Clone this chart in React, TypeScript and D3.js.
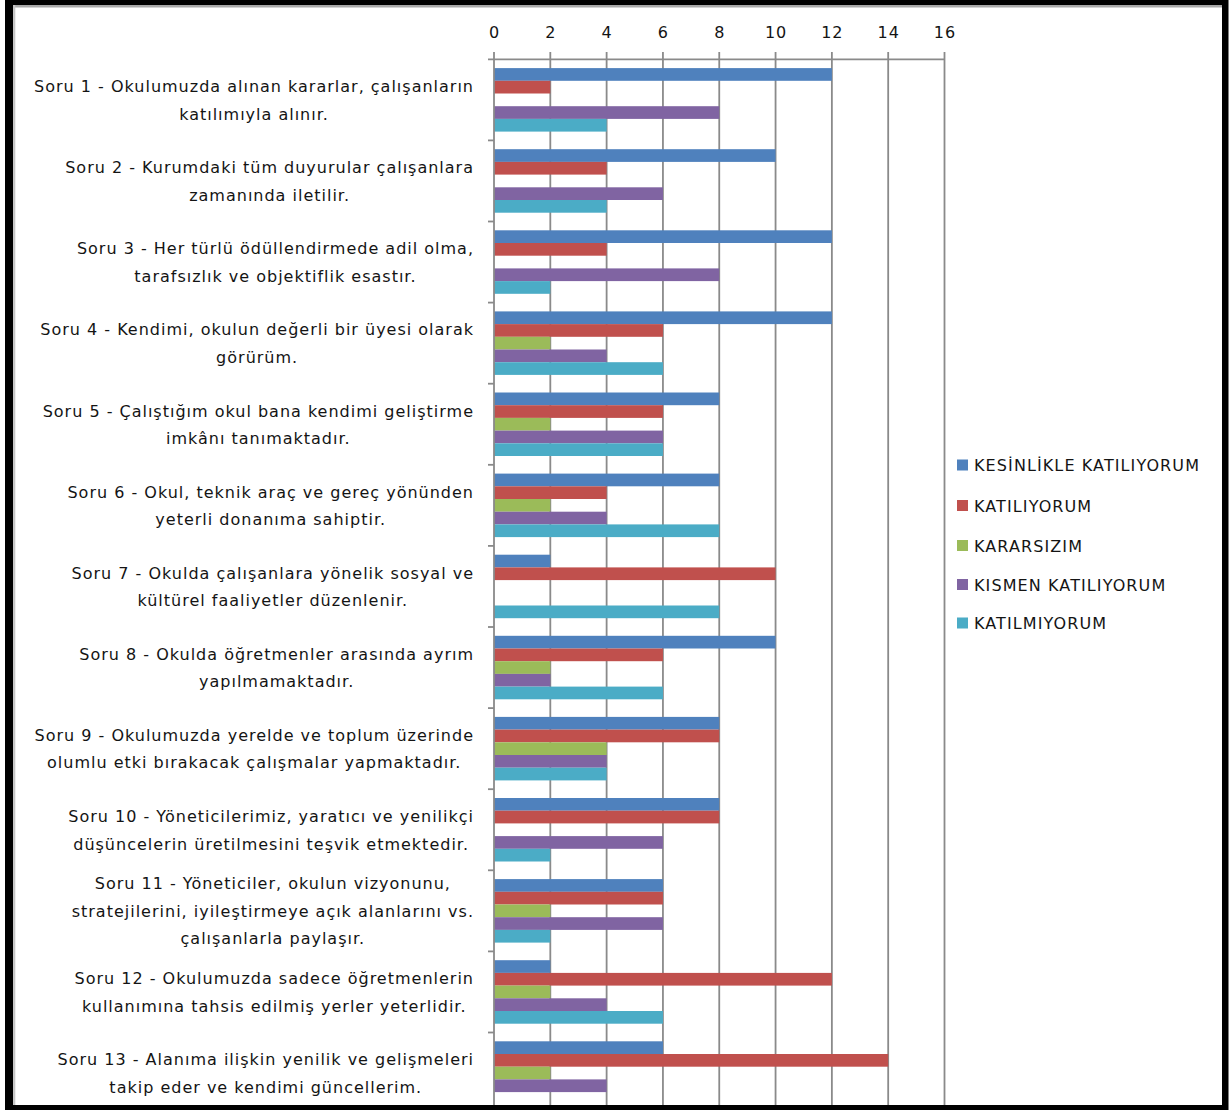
import React, { useEffect, useRef } from "react";
import * as d3 from "d3";

const categories: string[][] = [
  ["Soru 1 - Okulumuzda alınan kararlar, çalışanların", "katılımıyla alınır."],
  ["Soru 2 - Kurumdaki tüm duyurular çalışanlara", "zamanında iletilir."],
  ["Soru 3 - Her türlü ödüllendirmede adil olma,", "tarafsızlık ve objektiflik esastır."],
  ["Soru 4 - Kendimi, okulun değerli bir üyesi olarak", "görürüm."],
  ["Soru 5 - Çalıştığım okul bana kendimi geliştirme", "imkânı tanımaktadır."],
  ["Soru 6 - Okul, teknik araç ve gereç yönünden", "yeterli donanıma sahiptir."],
  ["Soru 7 - Okulda çalışanlara yönelik sosyal ve", "kültürel faaliyetler düzenlenir."],
  ["Soru 8 - Okulda öğretmenler arasında ayrım", "yapılmamaktadır."],
  ["Soru 9 - Okulumuzda yerelde ve toplum üzerinde", "olumlu etki bırakacak çalışmalar yapmaktadır."],
  ["Soru 10 - Yöneticilerimiz, yaratıcı ve yenilikçi", "düşüncelerin üretilmesini teşvik etmektedir."],
  ["Soru 11 - Yöneticiler, okulun vizyonunu,", "stratejilerini, iyileştirmeye açık alanlarını vs.", "çalışanlarla paylaşır."],
  ["Soru 12 - Okulumuzda sadece öğretmenlerin", "kullanımına tahsis edilmiş yerler yeterlidir."],
  ["Soru 13 - Alanıma ilişkin yenilik ve gelişmeleri", "takip eder ve kendimi güncellerim."],
];

const seriesNames = [
  "KESİNLİKLE KATILIYORUM",
  "KATILIYORUM",
  "KARARSIZIM",
  "KISMEN KATILIYORUM",
  "KATILMIYORUM",
];

const kesinlikleKatiliyorum = [12, 10, 12, 12, 8, 8, 2, 10, 8, 8, 6, 2, 6];
const katiliyorum = [2, 4, 4, 6, 6, 4, 10, 6, 8, 8, 6, 12, 14];
const kararsizim = [0, 0, 0, 2, 2, 2, 0, 2, 4, 0, 2, 2, 2];
const kismenKatiliyorum = [8, 6, 8, 4, 6, 4, 0, 2, 4, 6, 6, 4, 4];
const katilmiyorum = [4, 4, 2, 6, 6, 8, 8, 6, 4, 2, 2, 6, 0];

const seriesValues = [kesinlikleKatiliyorum, katiliyorum, kararsizim, kismenKatiliyorum, katilmiyorum];
const seriesColors = ["#4F81BD", "#C0504D", "#9BBB59", "#8064A2", "#4BACC6"];

const xTicks = [0, 2, 4, 6, 8, 10, 12, 14, 16];

const W = 1229;
const H = 1110;

export default function App() {
  const ref = useRef<SVGSVGElement>(null);

  useEffect(() => {
    const svg = d3.select(ref.current);
    svg.selectAll("*").remove();
    const font = "DejaVu Sans, Verdana, sans-serif";
    const textColor = "#141414";
    const gridColor = "#8a8a8a";

    // Frame
    svg.append("rect").attr("x", 5).attr("y", 0).attr("width", 1223.5).attr("height", H).attr("fill", "#000");
    svg.append("rect").attr("x", 13).attr("y", 5).attr("width", 1209).attr("height", 1100).attr("fill", "#fff");
    svg.append("line").attr("x1", 13).attr("x2", 1222).attr("y1", 6.3).attr("y2", 6.3).attr("stroke", "#a8a8a8").attr("stroke-width", 2.6);
    svg.append("line").attr("x1", 14.2).attr("x2", 14.2).attr("y1", 5).attr("y2", 1105).attr("stroke", "#c4c4c4").attr("stroke-width", 2.2);

    const defs = svg.append("defs");
    defs.append("clipPath").attr("id", "clip").append("rect").attr("x", 16).attr("y", 8).attr("width", 1205).attr("height", 1097);

    const g = svg.append("g").attr("clip-path", "url(#clip)");

    const x = d3.scaleLinear().domain([0, 16]).range([494, 944.5]);
    const bandH = 81.1;
    const y0 = 59.3;
    const y = d3.scaleBand<number>().domain(d3.range(categories.length)).range([y0, y0 + bandH * categories.length]).padding(0);
    const barH = 12.7;
    const gap = (y.bandwidth() - barH * seriesNames.length) / 2;
    const inner = d3.scaleBand<number>().domain(d3.range(seriesNames.length)).range([gap, gap + barH * seriesNames.length]).padding(0);

    const bottom = 1110;

    // gridlines
    g.selectAll("line.grid")
      .data(xTicks.filter((t) => t > 0))
      .join("line")
      .attr("x1", (d) => x(d)).attr("x2", (d) => x(d))
      .attr("y1", 52).attr("y2", bottom)
      .attr("stroke", gridColor).attr("stroke-width", 1.8);

    g.append("line").attr("x1", x(0)).attr("x2", x(0)).attr("y1", 52).attr("y2", y0).attr("stroke", gridColor).attr("stroke-width", 1.8);

    // bars
    seriesValues.forEach((vals, si) => {
      g.selectAll(`rect.s${si}`)
        .data(vals.map((v, i) => ({ v, i })))
        .join("rect")
        .attr("x", x(0))
        .attr("y", (d) => (y(d.i) as number) + (inner(si) as number))
        .attr("width", (d) => x(d.v) - x(0))
        .attr("height", inner.bandwidth())
        .attr("fill", seriesColors[si]);
    });

    // axes
    g.append("line").attr("x1", 488).attr("x2", x(16)).attr("y1", y0).attr("y2", y0).attr("stroke", gridColor).attr("stroke-width", 1.8);
    g.append("line").attr("x1", x(0)).attr("x2", x(0)).attr("y1", y0).attr("y2", bottom).attr("stroke", gridColor).attr("stroke-width", 1.8);
    g.selectAll("line.ctick")
      .data(d3.range(1, categories.length + 1))
      .join("line")
      .attr("x1", 488).attr("x2", x(0))
      .attr("y1", (d) => y0 + d * y.bandwidth()).attr("y2", (d) => y0 + d * y.bandwidth())
      .attr("stroke", gridColor).attr("stroke-width", 1.8);

    // x tick labels
    g.selectAll("text.xt")
      .data(xTicks)
      .join("text")
      .attr("x", (d) => x(d) + 0.5).attr("y", 38)
      .attr("text-anchor", "middle")
      .attr("font-family", font).attr("font-size", 16)
      .attr("letter-spacing", 1)
      .attr("fill", textColor)
      .text((d) => String(d));

    // category labels
    const lineH = 27.5;
    const rightEdge = 474;
    categories.forEach((lines, i) => {
      const cy = (y(i) as number) + y.bandwidth() / 2;
      const grp = g.append("g");
      const texts = lines.map((l) =>
        grp.append("text").attr("font-family", font).attr("font-size", 16).attr("letter-spacing", 1)
          .attr("fill", textColor).attr("text-anchor", "middle").text(l)
      );
      const widths = texts.map((t) => (t.node() as SVGTextElement).getComputedTextLength());
      const maxW = d3.max(widths) as number;
      const cx = rightEdge - maxW / 2;
      const n = lines.length;
      texts.forEach((t, k) => {
        t.attr("x", cx).attr("y", cy + (k - (n - 1) / 2) * lineH + 6);
      });
    });

    // legend
    const legY = [465, 505.5, 545.5, 584.5, 623];
    seriesNames.forEach((name, si) => {
      g.append("rect").attr("x", 957).attr("y", legY[si] - 5.5).attr("width", 11).attr("height", 11).attr("fill", seriesColors[si]);
      g.append("text").attr("x", 974).attr("y", legY[si] + 6)
        .attr("font-family", font).attr("font-size", 16).attr("letter-spacing", 1.1).attr("fill", textColor)
        .text(name);
    });
  }, []);

  return (
    <svg ref={ref} width={W} height={H} style={{ position: "absolute", left: 0, top: 0, background: "#fff" }} />
  );
}
